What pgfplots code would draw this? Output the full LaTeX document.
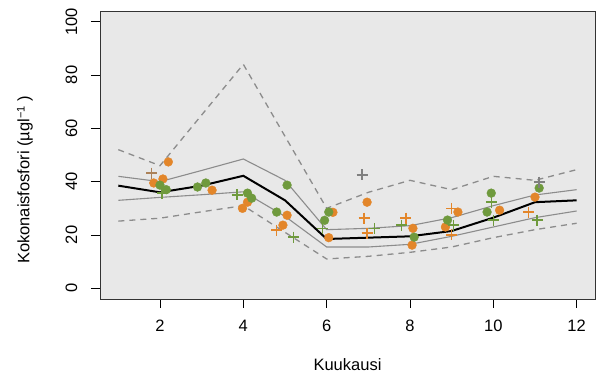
\documentclass[border=0pt]{standalone}
\usepackage{fontspec}
\setmainfont{Liberation Sans}
\usepackage{pgfplots}
\pgfplotsset{compat=1.18}

\definecolor{ptorange}{HTML}{E3862A}
\definecolor{ptgreen}{HTML}{6F9A3D}
\definecolor{bggray}{HTML}{E8E8E8}
\definecolor{linegray}{HTML}{8C8C8C}

\begin{document}
\fontsize{16.5}{20}\selectfont
\begin{tikzpicture}
\path[use as bounding box] (-100pt,-88pt) rectangle (498pt,299pt);
\begin{axis}[
  at={(0pt,0pt)}, anchor=south west,
  scale only axis, width=495pt, height=288pt,
  xmin=0.56, xmax=12.44, ymin=-4, ymax=104,
  axis background/.style={fill=bggray},
  axis line style={black!80, line width=0.9pt},
  xtick={2,4,...,12}, ytick={0,20,...,100},
  tick align=outside, major tick length=9pt,
  tick style={black, line width=0.9pt},
  xtick pos=bottom, ytick pos=left,
  tick label style={font=\fontsize{16.5}{20}\selectfont},
  /pgf/number format/assume math mode=true,
  yticklabel style={rotate=90, anchor=south},
  xticklabel shift=6pt,
  yticklabel shift=8pt,
]
% upper and lower limits (dashed), quartiles (thin grey), median (black)
\addplot[linegray, line width=1.3pt, dash pattern=on 6pt off 5pt] coordinates {
  (1,52) (2,46) (3,65) (4,84) (5,57) (6,30) (7,36) (8,40.5) (9,37) (10,42) (11,40.5) (12,44.5)};
\addplot[linegray, line width=1.3pt, dash pattern=on 6pt off 5pt] coordinates {
  (1,25.2) (2,26.3) (3,28.7) (4,31) (5,21) (6,11) (7,12) (8,13.5) (9,15.5) (10,19) (11,22) (12,24.4)};
\addplot[linegray, line width=1.1pt] coordinates {
  (1,42) (2,40) (3,44.2) (4,48.5) (5,40.5) (6,22) (7,22.5) (8,23.5) (9,26.5) (10,31) (11,35) (12,37)};
\addplot[linegray, line width=1.1pt] coordinates {
  (1,33) (2,34.1) (3,35.1) (4,36.2) (5,27) (6,15.5) (7,15.5) (8,16.5) (9,19.5) (10,23) (11,26.5) (12,29)};
\addplot[black, line width=2pt] coordinates {
  (1,38.5) (2,36) (3,38.5) (4,42.2) (5,33) (6,18.5) (7,19) (8,19.5) (9,21.5) (10,26.5) (11,32.3) (12,33)};

% observations
\addplot[only marks, mark=*, mark size=4.4pt, mark options={draw=ptorange, fill=ptorange}] coordinates {
  (2.2,47.4) (2.07,41) (1.85,39.5) (3.25,36.8) (4.1,32.3) (3.98,30)
  (5.05,27.4) (4.95,23.7) (6.15,28.5) (6.05,19) (6.97,32.3) (8.07,22.5) (8.05,16.2)
  (9.15,28.6) (8.85,23) (10.15,29.3) (11.0,34.2)};
\addplot[only marks, mark=*, mark size=4.4pt, mark options={draw=ptgreen, fill=ptgreen}] coordinates {
  (2.0,38.7) (2.15,37) (2.9,38) (3.1,39.5) (4.1,35.7) (4.2,33.8)
  (5.05,38.7) (4.8,28.6) (6.05,28.6) (5.95,25.5) (8.1,19.2)
  (8.9,25.6) (9.95,35.7) (9.85,28.6) (11.1,37.6)};
\addplot[only marks, mark=+, mark size=5.5pt, mark options={draw=ptorange, line width=1.4pt}] coordinates {
  (4.8,21.8) (6.9,26.3) (6.97,20.7) (7.9,26.3) (9.0,30) (9.0,20) (10.85,28.6)};
\addplot[only marks, mark=+, mark size=5.5pt, mark options={draw=ptgreen, line width=1.4pt}] coordinates {
  (2.05,35.7) (3.85,35) (5.2,19.2) (5.9,22.5) (7.15,22.5) (7.8,23.7)
  (9.05,23.7) (9.95,32.3) (10.0,25.6) (11.05,25.6)};
\addplot[only marks, mark=+, mark size=5.5pt, mark options={draw=gray, line width=1.4pt}] coordinates {
  (6.85,42.5) (11.1,39.8)};
\addplot[only marks, mark=+, mark size=5.5pt, mark options={draw=ptorange!45!gray, line width=1.4pt}] coordinates {
  (1.8,43.2)};
\end{axis}
\node at (247.5pt,-66pt) {Kuukausi};
\node[rotate=90] at (-75pt,119pt) {Kokonaisfosfori (µgl\raisebox{0.55ex}{\fontsize{11}{12}\selectfont −1} )};
\end{tikzpicture}
\end{document}
